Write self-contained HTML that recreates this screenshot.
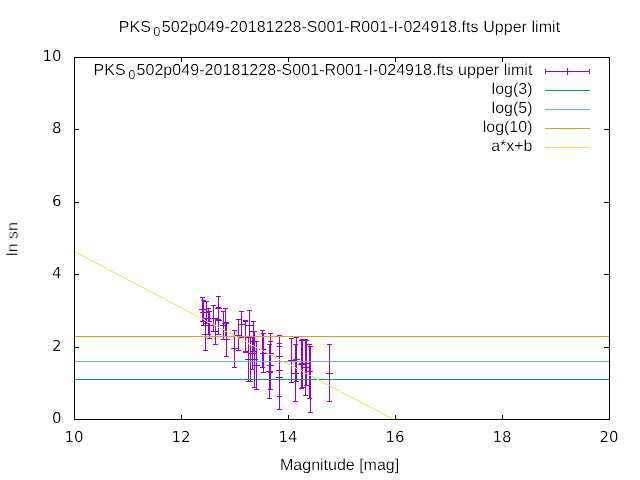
<!DOCTYPE html>
<html><head><meta charset="utf-8"><style>
html,body{margin:0;padding:0;background:#fff;width:640px;height:480px;overflow:hidden}
svg{display:block;will-change:transform}
text{font-family:"Liberation Sans",Arial,sans-serif;font-size:16px;fill:#000;text-rendering:geometricPrecision;filter:url(#thin)}
text.d{font-family:"DejaVu Sans",sans-serif;font-size:15px}
</style></head><body>
<svg width="640" height="480" viewBox="0 0 640 480" shape-rendering="crispEdges">
<defs><filter id="thin" filterUnits="userSpaceOnUse" x="-700" y="-700" width="1400" height="1400" color-interpolation-filters="sRGB"><feComponentTransfer><feFuncA type="gamma" amplitude="1" exponent="1.7" offset="0"/></feComponentTransfer></filter></defs>
<rect width="640" height="480" fill="#fff"/>
<g shape-rendering="auto">
<text x="118.8" y="32">PKS</text><text x="153.3" y="36" style="font-size:12.8px">0</text><text x="161.8" y="32" textLength="398.3" lengthAdjust="spacing">502p049-20181228-S001-R001-I-024918.fts Upper limit</text>
</g>
<path d="M74.5 57.5H609.5V419.5H74.5Z" stroke="#000" stroke-width="1" fill="none"/>
<path d="M74.5 419V414.5 M74.5 57V61.5 M181.5 419V414.5 M181.5 57V61.5 M288.5 419V414.5 M288.5 57V61.5 M395.5 419V414.5 M395.5 57V61.5 M502.5 419V414.5 M502.5 57V61.5 M609.5 419V414.5 M609.5 57V61.5 M74 419.5H79 M609 419.5H604 M74 347.5H79 M609 347.5H604 M74 274.5H79 M609 274.5H604 M74 202.5H79 M609 202.5H604 M74 129.5H79 M609 129.5H604 M74 57.5H79 M609 57.5H604" stroke="#000" stroke-width="1"/>
<text class="d" x="74" y="442" text-anchor="middle">10</text><text class="d" x="181" y="442" text-anchor="middle">12</text><text class="d" x="288" y="442" text-anchor="middle">14</text><text class="d" x="395" y="442" text-anchor="middle">16</text><text class="d" x="502" y="442" text-anchor="middle">18</text><text class="d" x="609" y="442" text-anchor="middle">20</text>
<text class="d" x="61.5" y="423" text-anchor="end">0</text><text class="d" x="61.5" y="351" text-anchor="end">2</text><text class="d" x="61.5" y="278" text-anchor="end">4</text><text class="d" x="61.5" y="206" text-anchor="end">6</text><text class="d" x="61.5" y="133" text-anchor="end">8</text><text class="d" x="61.5" y="61" text-anchor="end">10</text>
<text transform="translate(17.5,239) rotate(-90)" text-anchor="middle">ln sn</text>
<text x="280" y="470">Magnitude [mag]</text>
<path d="M202.5 297V322 M200 297.5H205 M200 321.5H205 M199 309.5H206 M202.5 306V313 M203.5 300V326 M201 300.5H206 M201 325.5H206 M200 312.5H207 M203.5 309V316 M206.5 301V324 M204 301.5H209 M204 323.5H209 M203 312.5H210 M206.5 309V316 M205.5 318V351 M203 318.5H208 M203 350.5H208 M202 334.5H209 M205.5 331V338 M208.5 308V335 M206 308.5H211 M206 334.5H211 M205 321.5H212 M208.5 318V325 M209.5 311V339 M207 311.5H212 M207 338.5H212 M206 325.5H213 M209.5 322V329 M213.5 305V332 M211 305.5H216 M211 331.5H216 M210 318.5H217 M213.5 315V322 M215.5 318V345 M213 318.5H218 M213 344.5H218 M212 331.5H219 M215.5 328V335 M218.5 296V320 M216 296.5H221 M216 319.5H221 M215 308.5H222 M218.5 305V312 M218.5 307V335 M216 307.5H221 M216 334.5H221 M215 320.5H222 M218.5 317V324 M223.5 311V340 M221 311.5H226 M221 339.5H226 M220 325.5H227 M223.5 322V329 M225.5 308V337 M223 308.5H228 M223 336.5H228 M222 323.5H229 M225.5 320V327 M226.5 322V357 M224 322.5H229 M224 356.5H229 M223 339.5H230 M226.5 336V343 M234.5 330V368 M232 330.5H237 M232 367.5H237 M231 348.5H238 M234.5 345V352 M238.5 319V351 M236 319.5H241 M236 350.5H241 M235 335.5H242 M238.5 332V339 M241.5 311V338 M239 311.5H244 M239 337.5H244 M238 324.5H245 M241.5 321V328 M245.5 320V352 M243 320.5H248 M243 351.5H248 M242 336.5H249 M245.5 333V340 M245.5 321V353 M243 321.5H248 M243 352.5H248 M242 336.5H249 M245.5 333V340 M249.5 310V338 M247 310.5H252 M247 337.5H252 M246 325.5H253 M249.5 322V329 M248.5 337V382 M246 337.5H251 M246 381.5H251 M245 359.5H252 M248.5 356V363 M250.5 337V382 M248 337.5H253 M248 381.5H253 M247 359.5H254 M250.5 356V363 M252.5 337V370 M250 337.5H255 M250 369.5H255 M249 353.5H256 M252.5 350V357 M253.5 321V342 M251 321.5H256 M251 341.5H256 M250 331.5H257 M253.5 328V335 M253.5 331V352 M251 331.5H256 M251 351.5H256 M250 341.5H257 M253.5 338V345 M254.5 331V388 M252 331.5H257 M252 387.5H257 M251 359.5H258 M254.5 356V363 M256.5 341V390 M254 341.5H259 M254 389.5H259 M253 365.5H260 M256.5 362V369 M262.5 330V368 M260 330.5H265 M260 367.5H265 M259 349.5H266 M262.5 346V353 M263.5 333V373 M261 333.5H266 M261 372.5H266 M260 353.5H267 M263.5 350V357 M270.5 333V373 M268 333.5H273 M268 372.5H273 M267 353.5H274 M270.5 350V357 M269.5 344V399 M267 344.5H272 M267 398.5H272 M266 371.5H273 M269.5 368V375 M270.5 341V390 M268 341.5H273 M268 389.5H273 M267 365.5H274 M270.5 362V369 M279.5 335V378 M277 335.5H282 M277 377.5H282 M276 356.5H283 M279.5 353V360 M279.5 343V397 M277 343.5H282 M277 396.5H282 M276 370.5H283 M279.5 367V374 M279.5 346V410 M277 346.5H282 M277 409.5H282 M276 377.5H283 M279.5 374V381 M291.5 338V383 M289 338.5H294 M289 382.5H294 M288 360.5H295 M291.5 357V364 M296.5 337V382 M294 337.5H299 M294 381.5H299 M293 359.5H300 M296.5 356V363 M295.5 344V402 M293 344.5H298 M293 401.5H298 M292 373.5H299 M295.5 370V377 M301.5 340V389 M299 340.5H304 M299 388.5H304 M298 364.5H305 M301.5 361V368 M302.5 339V388 M300 339.5H305 M300 387.5H305 M299 363.5H306 M302.5 360V367 M305.5 339V396 M303 339.5H308 M303 395.5H308 M302 367.5H309 M305.5 364V371 M306.5 340V386 M304 340.5H309 M304 385.5H309 M303 363.5H310 M306.5 360V367 M309.5 344V399 M307 344.5H312 M307 398.5H312 M306 371.5H313 M309.5 368V375 M310.5 346V413 M308 346.5H313 M308 412.5H313 M307 379.5H314 M310.5 376V383 M329.5 344V402 M327 344.5H332 M327 401.5H332 M326 373.5H333 M329.5 370V377" stroke="#9400d3" stroke-width="1" fill="none"/>
<path d="M75 379.5H609" stroke="#009e73"/>
<path d="M75 361.5H609" stroke="#56b4e9"/>
<path d="M75 336.5H609" stroke="#e69f00"/>
<path d="M75 252.5H77 M77 253.5H79 M79 254.5H81 M81 255.5H83 M83 256.5H85 M85 257.5H87 M87 258.5H88 M88 259.5H90 M90 260.5H92 M92 261.5H94 M94 262.5H96 M96 263.5H98 M98 264.5H100 M100 265.5H102 M102 266.5H104 M104 267.5H106 M106 268.5H107 M107 269.5H109 M109 270.5H111 M111 271.5H113 M113 272.5H115 M115 273.5H117 M117 274.5H119 M119 275.5H121 M121 276.5H123 M123 277.5H125 M125 278.5H127 M127 279.5H128 M128 280.5H130 M130 281.5H132 M132 282.5H134 M134 283.5H136 M136 284.5H138 M138 285.5H140 M140 286.5H142 M142 287.5H144 M144 288.5H146 M146 289.5H147 M147 290.5H149 M149 291.5H151 M151 292.5H153 M153 293.5H155 M155 294.5H157 M157 295.5H159 M159 296.5H161 M161 297.5H163 M163 298.5H165 M165 299.5H166 M166 300.5H168 M168 301.5H170 M170 302.5H172 M172 303.5H174 M174 304.5H176 M176 305.5H178 M178 306.5H180 M180 307.5H182 M182 308.5H184 M184 309.5H185 M185 310.5H187 M187 311.5H189 M189 312.5H191 M191 313.5H193 M193 314.5H195 M195 315.5H197 M197 316.5H199 M199 317.5H201 M201 318.5H203 M203 319.5H204 M204 320.5H206 M206 321.5H208 M208 322.5H210 M210 323.5H212 M212 324.5H214 M214 325.5H216 M216 326.5H218 M218 327.5H220 M220 328.5H222 M222 329.5H224 M224 330.5H225 M225 331.5H227 M227 332.5H229 M229 333.5H231 M231 334.5H233 M233 335.5H235 M235 336.5H237 M237 337.5H239 M239 338.5H241 M241 339.5H243 M243 340.5H244 M244 341.5H246 M246 342.5H248 M248 343.5H250 M250 344.5H252 M252 345.5H254 M254 346.5H256 M256 347.5H258 M258 348.5H260 M260 349.5H262 M262 350.5H263 M263 351.5H265 M265 352.5H267 M267 353.5H269 M269 354.5H271 M271 355.5H273 M273 356.5H275 M275 357.5H277 M277 358.5H279 M279 359.5H281 M281 360.5H282 M282 361.5H284 M284 362.5H286 M286 363.5H288 M288 364.5H290 M290 365.5H292 M292 366.5H294 M294 367.5H296 M296 368.5H298 M298 369.5H300 M300 370.5H302 M302 371.5H303 M303 372.5H305 M305 373.5H307 M307 374.5H309 M309 375.5H311 M311 376.5H313 M313 377.5H315 M315 378.5H317 M317 379.5H319 M319 380.5H321 M321 381.5H322 M322 382.5H324 M324 383.5H326 M326 384.5H328 M328 385.5H330 M330 386.5H332 M332 387.5H334 M334 388.5H336 M336 389.5H338 M338 390.5H340 M340 391.5H341 M341 392.5H343 M343 393.5H345 M345 394.5H347 M347 395.5H349 M349 396.5H351 M351 397.5H353 M353 398.5H355 M355 399.5H357 M357 400.5H359 M359 401.5H360 M360 402.5H362 M362 403.5H364 M364 404.5H366 M366 405.5H368 M368 406.5H370 M370 407.5H372 M372 408.5H374 M374 409.5H376 M376 410.5H378 M378 411.5H380 M380 412.5H381 M381 413.5H383 M383 414.5H385 M385 415.5H387 M387 416.5H389 M389 417.5H391 M391 418.5H392" stroke="#f0e442" stroke-width="1"/>
<g shape-rendering="auto">
<text x="93.6" y="75">PKS</text><text x="128.2" y="79" style="font-size:12.8px">0</text><text x="136.5" y="75" textLength="395.9" lengthAdjust="spacing">502p049-20181228-S001-R001-I-024918.fts upper limit</text>
<text x="532.5" y="94" text-anchor="end">log(3)</text>
<text x="532.5" y="113" text-anchor="end">log(5)</text>
<text x="532.5" y="132" text-anchor="end">log(10)</text>
<text x="532.5" y="151" text-anchor="end">a*x+b</text>
</g>
<path d="M545 71.5H590 M545.5 69V74 M589.5 69V74 M567.5 68V75" stroke="#9400d3"/>
<path d="M545 90.5H590" stroke="#009e73"/>
<path d="M545 109.5H590" stroke="#56b4e9"/>
<path d="M545 128.5H590" stroke="#e69f00"/>
<path d="M545 147.5H590" stroke="#f0e442"/>
</svg>
</body></html>
